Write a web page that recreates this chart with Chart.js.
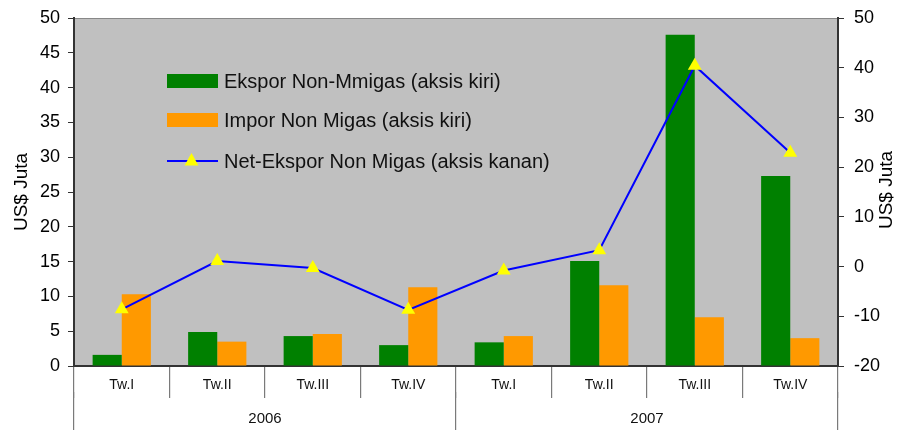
<!DOCTYPE html>
<html>
<head>
<meta charset="utf-8">
<script src="https://cdn.jsdelivr.net/npm/chart.js@4/dist/chart.umd.min.js"></script>
<style>
html,body{margin:0;padding:0;background:#fff;}
#wrap{width:901px;height:433px;}
</style>
</head>
<body>
<div id="wrap"><canvas id="c" width="901" height="433"></canvas></div>
<script>
const categories = ['Tw.I','Tw.II','Tw.III','Tw.IV','Tw.I','Tw.II','Tw.III','Tw.IV'];
const years = ['2006','2007'];
const ekspor = [1.6, 4.9, 4.3, 3.0, 3.4, 15.1, 47.6, 27.3];
const impor = [10.3, 3.5, 4.6, 11.3, 4.3, 11.6, 7.0, 4.0];
const netEkspor = [-8.6, 1.1, -0.3, -8.7, -0.8, 3.3, 40.4, 22.9];
const seriesNames = ['Ekspor Non-Mmigas (aksis kiri)', 'Impor Non Migas (aksis kiri)', 'Net-Ekspor Non Migas (aksis kanan)'];
const axisTitle = 'US$ Juta';

const FONT = "'Liberation Sans', Arial, sans-serif";
Chart.defaults.font.family = FONT;
Chart.defaults.color = '#000';

const bgPlugin = {
  id: 'bg',
  beforeDraw(chart) {
    const {ctx, chartArea: a} = chart;
    ctx.save();
    ctx.fillStyle = '#C0C0C0';
    ctx.fillRect(a.left, a.top, a.right - a.left, a.bottom - a.top);
    ctx.strokeStyle = '#888';
    ctx.lineWidth = 1;
    ctx.beginPath();
    ctx.moveTo(a.left, a.top + 0.5);
    ctx.lineTo(a.right, a.top + 0.5);
    ctx.stroke();
    ctx.restore();
  },
  afterDraw(chart) {
    const {ctx, chartArea: a} = chart;
    const ds = chart.data.datasets;
    ctx.save();
    ctx.font = '19px ' + FONT;
    ctx.fillStyle = '#000';
    ctx.textAlign = 'center';
    ctx.textBaseline = 'middle';
    ctx.translate(887, (a.top + a.bottom) / 2 - 2);
    ctx.rotate(-Math.PI / 2);
    ctx.fillText(axisTitle, 0, 0);
    ctx.restore();

    ctx.save();
    const bx = a.left + 93, bw = 51;
    const rows = [a.top + 63, a.top + 102, a.top + 143];
    ctx.font = '20px ' + FONT;
    ctx.textBaseline = 'middle';
    ctx.textAlign = 'left';
    for (let i = 0; i < 3; i++) {
      const y = rows[i];
      const d = ds[i];
      if (i < 2) {
        ctx.fillStyle = d.backgroundColor;
        ctx.fillRect(bx, y - 7, bw, 14);
      } else {
        ctx.strokeStyle = d.borderColor;
        ctx.lineWidth = 2;
        ctx.beginPath();
        ctx.moveTo(bx, y);
        ctx.lineTo(bx + bw, y);
        ctx.stroke();
        const cx = bx + bw / 2 - 1, r = 8;
        ctx.fillStyle = d.pointBackgroundColor;
        ctx.beginPath();
        ctx.moveTo(cx, y - r);
        ctx.lineTo(cx + r * 0.87, y + r * 0.55);
        ctx.lineTo(cx - r * 0.87, y + r * 0.55);
        ctx.closePath();
        ctx.fill();
      }
      ctx.fillStyle = '#111';
      ctx.fillText(d.label, bx + bw + 6, y + 1);
    }
    ctx.restore();
  }
};

function fixV(width) {
  return function (s) { s.width = width; s.paddingTop = 0; s.paddingBottom = 0; };
}

new Chart(document.getElementById('c'), {
  type: 'bar',
  data: {
    labels: categories,
    datasets: [
      { label: seriesNames[0], data: ekspor, backgroundColor: '#008000', yAxisID: 'y', order: 2,
        categoryPercentage: 0.61, barPercentage: 1.0 },
      { label: seriesNames[1], data: impor, backgroundColor: '#FF9900', yAxisID: 'y', order: 2,
        categoryPercentage: 0.61, barPercentage: 1.0 },
      { type: 'line', label: seriesNames[2], data: netEkspor, yAxisID: 'y1', order: 0,
        borderColor: '#0000FF', borderWidth: 2, backgroundColor: '#FFFF00',
        pointStyle: 'triangle', pointRadius: 8, pointBackgroundColor: '#FFFF00',
        pointBorderColor: '#FFFF00', pointBorderWidth: 0, tension: 0, fill: false }
    ]
  },
  options: {
    responsive: false,
    animation: false,
    events: [],
    layout: { padding: { top: 18, left: 0, right: 0, bottom: 0 } },
    plugins: { legend: { display: false }, tooltip: { enabled: false } },
    scales: {
      x: {
        type: 'category',
        position: 'bottom',
        offset: true,
        grid: { offset: true, drawOnChartArea: false, drawTicks: true, tickLength: 32, color: '#7a7a7a', lineWidth: 1.2 },
        border: { display: true, color: '#333', width: 2 },
        ticks: { font: { size: 14 }, color: '#111', padding: -21, maxRotation: 0, autoSkip: false },
        afterFit(s) { s.height = 26; s.paddingLeft = 0; s.paddingRight = 0; }
      },
      x2: {
        type: 'category',
        position: 'bottom',
        labels: years,
        offset: true,
        grid: { offset: true, drawOnChartArea: false, drawTicks: true, tickLength: 38, color: '#7a7a7a', lineWidth: 1.2 },
        border: { display: false },
        ticks: { font: { size: 15 }, color: '#111', padding: -20, maxRotation: 0 },
        afterFit(s) { s.height = 41; s.paddingLeft = 0; s.paddingRight = 0; }
      },
      y: {
        position: 'left',
        min: 0, max: 50,
        ticks: { stepSize: 5, font: { size: 18 }, color: '#000', padding: 8 },
        grid: { drawOnChartArea: false, tickLength: 6, color: '#333' },
        border: { display: true, color: '#333', width: 2 },
        title: { display: true, text: axisTitle, font: { size: 19 }, color: '#000', padding: { top: 10, bottom: 0 } },
        afterFit: fixV(74)
      },
      y1: {
        position: 'right',
        min: -20, max: 50,
        ticks: { stepSize: 10, font: { size: 18 }, color: '#000', padding: 10 },
        grid: { drawOnChartArea: false, tickLength: 6, color: '#333' },
        border: { display: true, color: '#333', width: 2 },
        afterFit: fixV(63)
      }
    }
  },
  plugins: [bgPlugin]
});
</script>
</body>
</html>
